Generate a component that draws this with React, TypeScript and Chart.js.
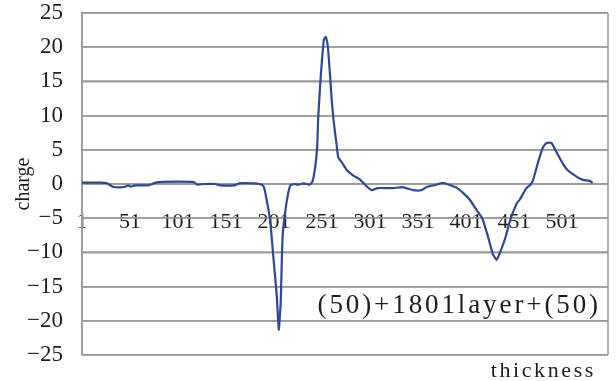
import React, { useEffect, useRef } from "react";
import { Chart, registerables } from "chart.js";

Chart.register(...registerables);

const thickness = [
  1, 20, 27, 33, 40, 46, 49, 52, 56, 70,
  78, 85, 100, 117, 121, 128, 140, 145, 160, 165,
  180, 186, 190, 192, 197, 200, 204, 206, 208, 210,
  214, 218, 222, 226, 232, 238, 241, 244, 246, 247,
  249, 251, 253, 255, 257, 259, 261, 263, 266, 268,
  272, 277, 283, 291, 298, 303, 309, 319, 325, 335,
  346, 355, 360, 369, 377, 384, 392, 398, 405, 412,
  418, 424, 429, 433, 436, 442, 447, 454, 457, 464,
  468, 471, 476, 481, 485, 490, 494, 501, 507, 517,
  523, 530, 533,
];

const charge = [
  0.2, 0.2, 0.1, -0.4, -0.5, -0.4, -0.2, -0.4, -0.2, -0.2,
  0.2, 0.3, 0.35, 0.3, -0.1, 0.0, 0.0, -0.2, -0.2, 0.1,
  0.1, 0.0, -0.3, -1.3, -5.3, -10.1, -16.5, -21.3, -17.4, -7.7,
  -2.8, -0.2, 0.0, -0.1, 0.1, -0.1, 0.3, 2.5, 5.4, 9.4,
  14.2, 18.1, 21.1, 21.5, 20.3, 16.7, 12.6, 9.4, 6.0, 3.9,
  3.1, 2.0, 1.3, 0.6, -0.4, -0.9, -0.6, -0.6, -0.6, -0.45,
  -0.9, -0.9, -0.45, -0.15, 0.15, -0.15, -0.6, -1.3, -2.3, -3.8,
  -5.0, -7.7, -10.2, -11.1, -10.2, -7.9, -5.3, -2.8, -2.3, -0.6,
  -0.15, 0.6, 3.1, 5.3, 6.0, 6.0, 5.0, 3.2, 2.0, 1.0,
  0.6, 0.45, 0.15,
];

const xTickValues = [1, 51, 101, 151, 201, 251, 301, 351, 401, 451, 501];
const xMin = 1;
const xMax = 549;
const yMin = -25;
const yMax = 25;
const yStep = 5;
const xAxisTitle = "thickness";
const yAxisTitle = "charge";
const noteText = "(50)+1801layer+(50)";

const GRID = "#9a9a9a";
const TEXT = "#1e1e1e";
const SERIF = "'Liberation Serif', 'DejaVu Serif', serif";

const extras = {
  id: "extras",
  beforeDatasetsDraw(chart: any) {
    const { ctx, chartArea: a } = chart;
    const ys = chart.scales.y;
    ctx.save();
    ctx.strokeStyle = GRID;
    ctx.lineWidth = 1.6;
    const l = Math.round(a.left);
    const r = Math.round(a.right);
    ys.ticks.forEach((t: any) => {
      const py = Math.round(ys.getPixelForValue(t.value));
      ctx.beginPath();
      ctx.moveTo(l, py);
      ctx.lineTo(r, py);
      ctx.stroke();
    });
    ctx.beginPath();
    ctx.moveTo(l, Math.round(a.top));
    ctx.lineTo(l, Math.round(a.bottom));
    ctx.moveTo(r, Math.round(a.top));
    ctx.lineTo(r, Math.round(a.bottom));
    ctx.stroke();
    ctx.restore();
  },
  afterDraw(chart: any) {
    const { ctx } = chart;
    ctx.save();
    ctx.fillStyle = TEXT;
    ctx.textAlign = "right";
    ctx.textBaseline = "alphabetic";
    ctx.font = `27px ${SERIF}`;
    (ctx as any).letterSpacing = "2.9px";
    ctx.fillText(noteText, 601, 313);
    ctx.font = `22px ${SERIF}`;
    (ctx as any).letterSpacing = "2.6px";
    ctx.fillText(xAxisTitle, 596, 377);
    ctx.restore();
  },
};

export default function App() {
  const ref = useRef<HTMLCanvasElement>(null);

  useEffect(() => {
    if (!ref.current) return;
    const points = thickness.map((x, i) => ({ x, y: charge[i] }));
    const chart = new Chart(ref.current, {
      type: "line",
      data: {
        datasets: [
          {
            data: points,
            borderColor: "#2c4896",
            borderWidth: 2.2,
            pointRadius: 0,
            tension: 0.15,
            fill: false,
          },
        ],
      },
      options: {
        animation: false,
        responsive: false,
        layout: { padding: { top: 13, right: 8, bottom: 26, left: 0 } },
        plugins: {
          legend: { display: false },
          tooltip: { enabled: false },
        },
        scales: {
          x: {
            type: "linear",
            position: { y: 0 } as any,
            min: xMin,
            max: xMax,
            afterBuildTicks: (s: any) => {
              s.ticks = xTickValues.map((v) => ({ value: v }));
            },
            grid: { display: false, drawTicks: false },
            border: { display: true, color: GRID, width: 1.6 },
            ticks: {
              autoSkip: false,
              maxRotation: 0,
              padding: 25,
              color: TEXT,
              font: { family: SERIF, size: 22, lineHeight: 1.2 },
              callback: (v: any) => String(v),
            },
          },
          y: {
            min: yMin,
            max: yMax,
            afterFit: (s: any) => {
              s.width = 82;
              s.paddingTop = 0;
              s.paddingBottom = 0;
            },
            grid: { color: GRID, lineWidth: 1.6, drawTicks: false },
            border: { display: true, color: GRID, width: 1.6 },
            ticks: {
              stepSize: yStep,
              padding: 19,
              color: TEXT,
              font: { family: SERIF, size: 23, lineHeight: 1 },
              callback: (v: any) =>
                Number(v) < 0 ? "\u2212" + Math.abs(Number(v)) : String(v),
            },
            title: {
              display: true,
              text: yAxisTitle,
              color: TEXT,
              font: { family: SERIF, size: 20, lineHeight: 1.2 },
              padding: { top: 12, bottom: 0 },
            },
          },
        },
      },
      plugins: [extras],
    });
    return () => chart.destroy();
  }, []);

  return (
    <div
      style={{
        position: "fixed",
        left: 0,
        top: 0,
        width: 616,
        height: 381,
        background: "#ffffff",
      }}
    >
      <canvas ref={ref} width={616} height={381} style={{ display: "block" }} />
    </div>
  );
}
